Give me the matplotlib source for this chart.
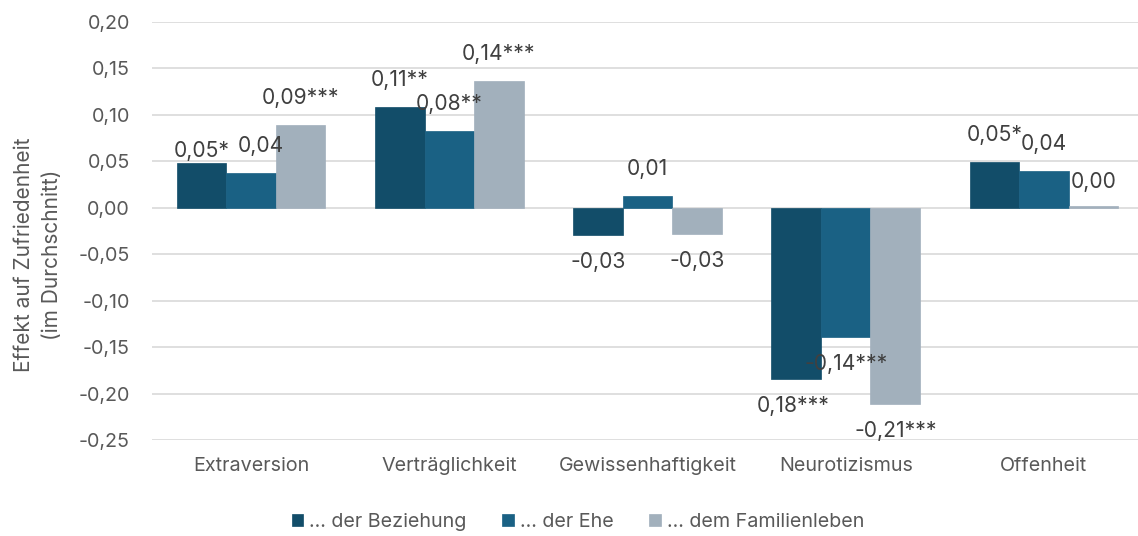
import matplotlib
matplotlib.use("Agg")
import matplotlib.pyplot as plt
import numpy as np

categories = ["Extraversion", "Verträglichkeit", "Gewissenhaftigkeit", "Neurotizismus", "Offenheit"]
series_names = ["… der Beziehung", "… der Ehe", "… dem Familienleben"]
beziehung = [0.048, 0.108, -0.029, -0.184, 0.049]
ehe = [0.037, 0.083, 0.013, -0.139, 0.040]
familie = [0.089, 0.137, -0.028, -0.211, 0.002]
labels_beziehung = ["0,05*", "0,11**", "-0,03", "0,18***", "0,05*"]
labels_ehe = ["0,04", "0,08**", "0,01", "-0,14***", "0,04"]
labels_familie = ["0,09***", "0,14***", "-0,03", "-0,21***", "0,00"]
yticks = [0.20, 0.15, 0.10, 0.05, 0.00, -0.05, -0.10, -0.15, -0.20, -0.25]

colors = ["#124D69", "#1A6184", "#A2B0BC"]
plt.rcParams['font.family'] = ['Inter', 'DejaVu Sans']

W, H = 1138, 536
fig = plt.figure(figsize=(W / 100, H / 100), dpi=100)
left_px, right_px, top_px, bot_px = 152, 1143, 22, 440
ax = fig.add_axes([left_px / W, 1 - bot_px / H, (right_px - left_px) / W, (bot_px - top_px) / H])

x = np.arange(len(categories))
bw = 0.25
all_vals = [beziehung, ehe, familie]
all_labels = [labels_beziehung, labels_ehe, labels_familie]
# label offsets in pixels (dx, dy) relative to bar end, default 27 px outward
offsets = {(0, 0): (0, 12), (0, 1): (10, 27), (4, 2): (0, 24), (3, 0): (-3, 27)}
for i, (vals, labs) in enumerate(zip(all_vals, all_labels)):
    xs = x + (i - 1) * bw
    ax.bar(xs, vals, width=bw, color=colors[i], edgecolor=colors[i], linewidth=0.5,
           label=series_names[i], zorder=3)
    for j, (xv, v, lab) in enumerate(zip(xs, vals, labs)):
        dx, dy = offsets.get((j, i), (0, 27))
        sign = 1 if v >= 0 else -1
        ax.annotate(lab, (xv, v), xytext=(dx, sign * dy), textcoords="offset pixels",
                    ha="center", va="center", fontsize=15.2, color="#404040", zorder=5)

ax.set_ylim(-0.25, 0.20)
ax.set_xlim(-0.5, len(categories) - 0.5)
ax.set_yticks(yticks)
ax.set_yticklabels([f"{t:.2f}".replace(".", ",") for t in yticks], fontsize=14.2, color="#595959")
ax.set_xticks(x)
ax.set_xticklabels(categories, fontsize=14.2, color="#595959")
ax.tick_params(axis="both", length=0)
ax.tick_params(axis="y", pad=16)
ax.tick_params(axis="x", pad=12)
ax.grid(axis="y", color="#D9D9D9", linewidth=1.2, zorder=0)
for s in ax.spines.values():
    s.set_visible(False)

fig.text(38.5 / W, 1 - 255 / H, "Effekt auf Zufriedenheit\n(im Durchschnitt)", rotation=90,
         ha="center", va="center", fontsize=15, color="#595959", linespacing=1.5)

handles, lbls = ax.get_legend_handles_labels()
fig.legend(handles, lbls, loc="center", bbox_to_anchor=(578 / W, 1 - 522 / H), ncol=3,
           frameon=False, fontsize=14.2, labelcolor="#595959", handlelength=0.6, handleheight=0.6,
           handletextpad=0.3, columnspacing=1.8)

fig.savefig("out.png", dpi=100)
